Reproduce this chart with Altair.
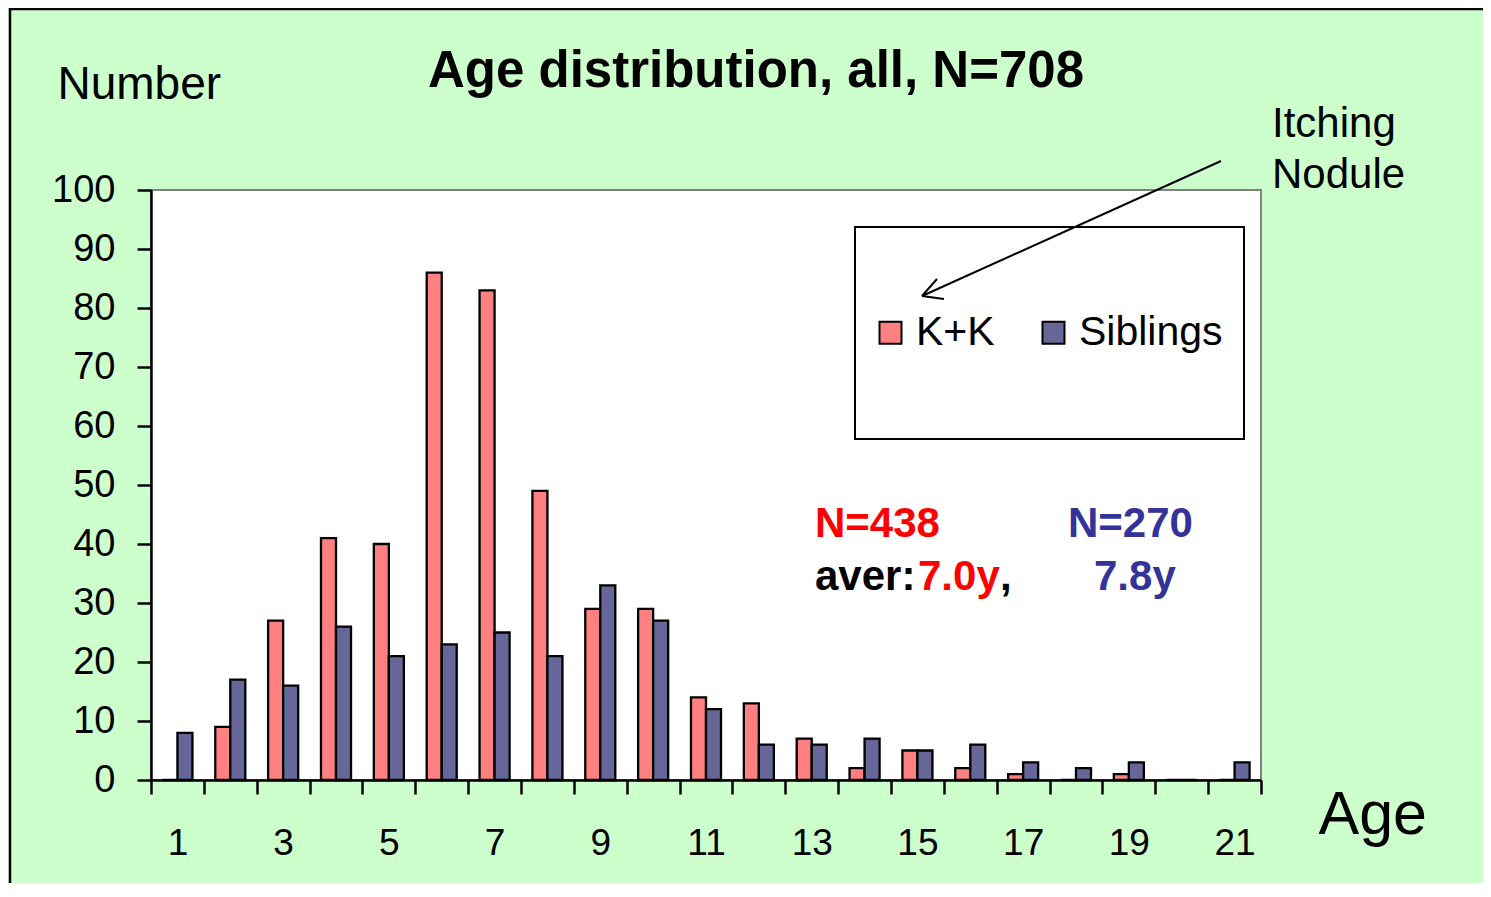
import altair as alt
import pandas as pd

ages = list(range(1, 22))
kk = [0, 9, 27, 41, 40, 86, 83, 49, 29, 29, 14, 13, 7, 2, 5, 2, 1, 0, 1, 0, 0]
sib = [8, 17, 16, 26, 21, 23, 25, 21, 33, 27, 12, 6, 6, 7, 5, 6, 3, 2, 3, 0, 3]
series = ["K+K", "Siblings"]
colors = ["#FF8080", "#666699"]
y_ticks = list(range(0, 101, 10))

rows = []
for a, k, s in zip(ages, kk, sib):
    rows.append({"age": a, "series": series[0], "count": k})
    rows.append({"age": a, "series": series[1], "count": s})
df = pd.DataFrame(rows)

FONT = "Liberation Sans"
one = alt.Data(values=[{"k": 1}])

W, H = 1110, 590

bars = alt.Chart(df).mark_bar(stroke="black", strokeWidth=2.3).encode(
    x=alt.X("age:O", scale=alt.Scale(paddingInner=0, paddingOuter=0),
            axis=alt.Axis(title="Age", titleFontSize=61, titleFont=FONT, titleFontWeight="normal",
                          titleAngle=0, titleAlign="left", titleBaseline="alphabetic",
                          titleX=1167, titleY=53, titleColor="black",
                          labelExpr="datum.value % 2 == 1 ? datum.label : ''",
                          labelAngle=0, labelFontSize=37, labelFont=FONT, labelColor="black",
                          labelPadding=31, tickBand="extent", tickSize=14, tickWidth=2.5,
                          tickColor="black", domainColor="black", domainWidth=2.5)),
    xOffset=alt.XOffset("series:N", scale=alt.Scale(domain=series, paddingOuter=0.76, paddingInner=0)),
    y=alt.Y("count:Q", scale=alt.Scale(domain=[0, 100], nice=False),
            axis=alt.Axis(title="Number", titleFontSize=46, titleFont=FONT, titleFontWeight="normal",
                          titleAngle=0, titleAlign="left", titleBaseline="alphabetic",
                          titleX=-94, titleY=-92, titleColor="black",
                          values=y_ticks, grid=False, labelFontSize=38, labelFont=FONT,
                          labelColor="black", labelPadding=22, tickSize=14, tickWidth=2.5,
                          tickColor="black", domainColor="black", domainWidth=2.5)),
    color=alt.Color("series:N", scale=alt.Scale(domain=series, range=colors),
                    legend=alt.Legend(title=None, orient="none", legendX=719, legendY=122,
                                      direction="horizontal", symbolType="square", symbolSize=484,
                                      symbolStrokeColor="black", symbolStrokeWidth=2,
                                      symbolOpacity=1, labelFontSize=41, labelFont=FONT,
                                      labelColor="black", labelOffset=5, columnPadding=38,
                                      labelLimit=400)),
)

frame = alt.Chart(one).mark_rect(filled=False, stroke="black", strokeWidth=2.5).encode(
    x=alt.value(-141), x2=alt.value(1500), y=alt.value(-181), y2=alt.value(900))

legend_box = alt.Chart(one).mark_rect(fill="white", stroke="black", strokeWidth=2).encode(
    x=alt.value(704), x2=alt.value(1093), y=alt.value(37), y2=alt.value(249))

arrow_line = alt.Chart(one).mark_rule(color="black", strokeWidth=2).encode(
    x=alt.value(1070), y=alt.value(-29), x2=alt.value(771), y2=alt.value(106))
arrow_a = alt.Chart(one).mark_rule(color="black", strokeWidth=2).encode(
    x=alt.value(771), y=alt.value(106), x2=alt.value(786), y2=alt.value(89))
arrow_b = alt.Chart(one).mark_rule(color="black", strokeWidth=2).encode(
    x=alt.value(771), y=alt.value(106), x2=alt.value(793), y2=alt.value(109))


def txt(s, x, y, size, color="black", weight="normal"):
    return alt.Chart(one).mark_text(text=s, align="left", baseline="alphabetic", font=FONT,
                                    fontSize=size, fontWeight=weight, color=color).encode(
        x=alt.value(x), y=alt.value(y))


texts = [
    txt("Itching", 1121, -53, 42),
    txt("Nodule", 1121, -2, 42),
    txt("N=438", 664, 347, 42, "#FF0000", "bold"),
    txt("N=270", 917, 347, 42, "#333399", "bold"),
    txt("aver:", 664, 400, 42, "black", "bold"),
    txt("7.0y", 767, 400, 42, "#FF0000", "bold"),
    txt(",", 849, 400, 42, "black", "bold"),
    txt("7.8y", 943, 400, 42, "#333399", "bold"),
]

chart = alt.layer(frame, legend_box, bars, arrow_line, arrow_a, arrow_b, *texts).properties(
    width=W, height=H,
    title=alt.TitleParams("Age distribution, all, N=708", font=FONT, fontSize=51,
                          fontWeight="bold", color="black", anchor="middle", frame="group",
                          dx=50, dy=134, baseline="alphabetic"),
    autosize=alt.AutoSizeParams(type="none"),
    padding={"left": 143, "top": 182, "right": 222, "bottom": 103},
    background="#CCFFCC",
).configure_view(fill="white", stroke="#808080", strokeWidth=2)

chart.save("out.html", embed_options={"renderer": "svg", "actions": False})
